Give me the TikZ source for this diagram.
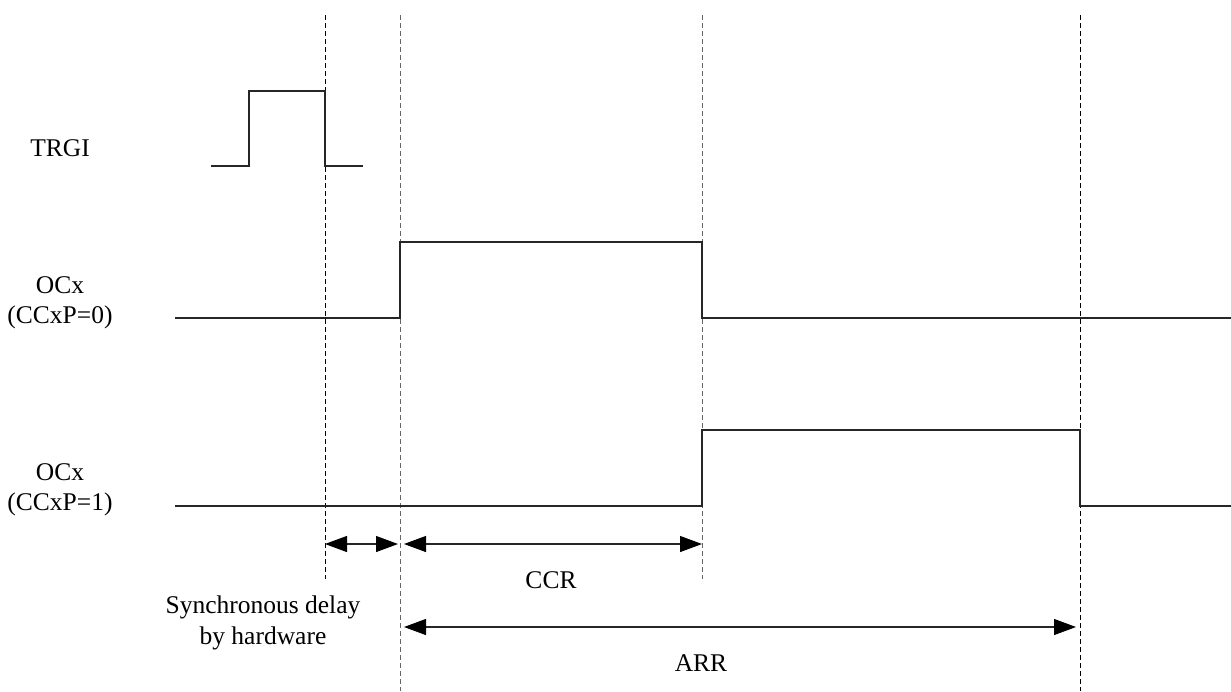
\documentclass[tikz,border=0pt]{standalone}
\usepackage{fontspec}
\setmainfont{Liberation Serif}
\usetikzlibrary{arrows.meta}
\begin{document}
\begin{tikzpicture}[x=1pt,y=-1pt,
  sig/.style={line width=1.1pt,color=black!85},
  guide/.style={line width=1pt,dash pattern=on 5pt off 3pt},
  tip/.style={Triangle[length=22pt,width=16pt,fill=black,color=black]},
  dim/.style={line width=1.1pt,color=black!85,{Triangle[length=22pt,width=16pt,fill=black,color=black]}-{Triangle[length=22pt,width=16pt,fill=black,color=black]}},
  lbl/.style={inner sep=0pt,font=\fontsize{25.5}{30.6}\selectfont,align=center}]
\useasboundingbox (0,0) rectangle (1231,691);
% guide lines
\coordinate (g1t) at (325,15);  \coordinate (g1b) at (325,579);
\coordinate (g2t) at (400,15);  \coordinate (g2b) at (400,691);
\coordinate (g3t) at (702,15);  \coordinate (g3b) at (702,579);
\coordinate (g4t) at (1080,15); \coordinate (g4b) at (1080,691);
\draw[guide,black] (g1t) -- (g1b);
\draw[guide,black!60] (g2t) -- (g2b);
\draw[guide,black!60] (g3t) -- (g3b);
\draw[guide,black] (g4t) -- (g4b);
% signals
\draw[sig] (211,166) -- (249,166) -- (249,91) -- (325,91) -- (325,166) -- (363,166);
\draw[sig] (175,318) -- (400,318) -- (400,242) -- (702,242) -- (702,318) -- (1231,318);
\draw[sig] (175,506) -- (702,506) -- (702,430) -- (1080,430) -- (1080,506) -- (1231,506);
% dimension arrows
\coordinate (d1l) at (325,544); \coordinate (d1r) at (398,544);
\coordinate (d2l) at (404,544); \coordinate (d2r) at (702,544);
\coordinate (d3l) at (404,627); \coordinate (d3r) at (1076,627);
\draw[dim] (d1l) -- (d1r);
\draw[dim] (d2l) -- (d2r);
\draw[dim] (d3l) -- (d3r);
% labels
\node[lbl] (trgi) at (60,148) {TRGI};
\node[lbl,anchor=north] (oc0) at (60,276) {OCx\\(CCxP=0)};
\node[lbl,anchor=north] (oc1) at (60,463) {OCx\\(CCxP=1)};
\node[lbl,anchor=north] (sync) at (263,596) {Synchronous delay\\by hardware};
\node[lbl] (ccr) at (551,580) {CCR};
\node[lbl] (arr) at (701,663) {ARR};
\end{tikzpicture}
\end{document}
